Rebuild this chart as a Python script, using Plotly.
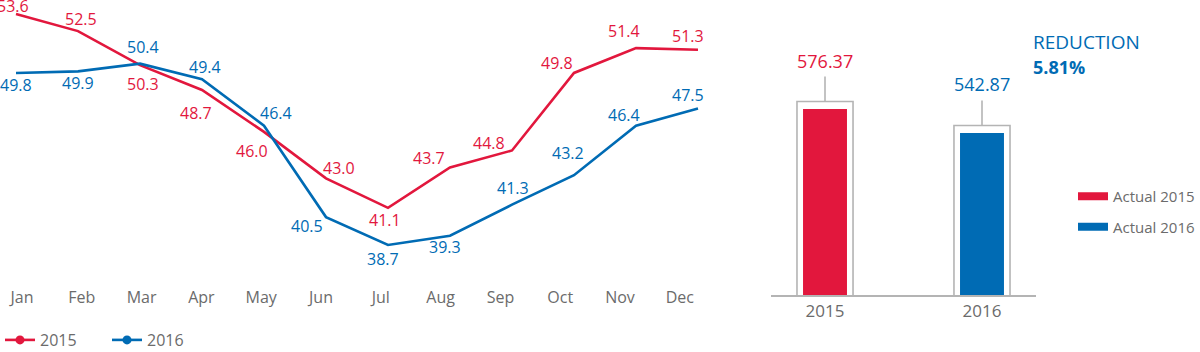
import plotly.graph_objects as go

# ---------------- data ----------------
months = ['Jan', 'Feb', 'Mar', 'Apr', 'May', 'Jun', 'Jul', 'Aug', 'Sep', 'Oct', 'Nov', 'Dec']
consumption_2015 = [53.6, 52.5, 50.3, 48.7, 46.0, 43.0, 41.1, 43.7, 44.8, 49.8, 51.4, 51.3]
consumption_2016 = [49.8, 49.9, 50.4, 49.4, 46.4, 40.5, 38.7, 39.3, 41.3, 43.2, 46.4, 47.5]
line_names = ['2015', '2016']

years = ['2015', '2016']
annual_totals = [576.37, 542.87]
bar_names = ['Actual 2015', 'Actual 2016']

# ---------------- style ----------------
W, H = 1200, 352
RED = '#E2173D'
BLUE = '#006BB4'
GREY_TEXT = '#6B6B6B'
GREY_LINE = '#B4B4B4'
FONT = 'Open Sans'

# label offsets from their point, in pixels (dx right, dy down)
offs_2015 = [(-3, -8), (3, -12), (3, 19), (-6, 23), (-12, 19), (13, -10),
             (-3, 12), (-21, -10), (-23, -7), (-17, -10), (-12, -17), (-10, -14)]
offs_2016 = [(0, 12), (0, 12), (3, -17), (3, -12), (12, -13), (-19, 9),
             (-5, 14), (-5, 11), (1, -17), (-6, -22), (-12, -11), (-10, -14)]


def px_x(p):
    return p / W


def px_y(p):
    return 1 - p / H


idx = list(range(len(months)))

# line panel geometry (pixels)
LINE_RIGHT = 715
LINE_BOTTOM = 280
pt_x0, pt_step = 16, 62.0        # point spacing
lb_x0, lb_step = 22, 59.8        # month label spacing
line_yrange = [36.442, 54.506]

# bar panel geometry
BAR_LEFT, BAR_RIGHT, BAR_BASE = 771, 1036, 295
bar_xrange = [-0.344, 1.344]
bar_yrange = [316.6, 728.6]
units_per_px = (bar_yrange[1] - bar_yrange[0]) / BAR_BASE
pad_units = 7.5 * units_per_px
stem_units = 25 * units_per_px

fig = go.Figure()
annotations = []

# line traces + value labels
for vals, col, offs in [(consumption_2015, RED, offs_2015), (consumption_2016, BLUE, offs_2016)]:
    fig.add_trace(go.Scatter(
        x=idx, y=vals, mode='lines', line=dict(color=col, width=2.6),
        showlegend=False, hoverinfo='skip', xaxis='x', yaxis='y'))
    for i, v in enumerate(vals):
        dx, dy = offs[i]
        annotations.append(dict(
            x=i, y=v, xref='x', yref='y', text=f'{v:.1f}', showarrow=False,
            xanchor='center', yanchor='middle', xshift=dx, yshift=-dy,
            font=dict(family=FONT, size=16, color=col)))

# empty trace to carry the month-label axis
fig.add_trace(go.Scatter(x=[], y=[], xaxis='x3', yaxis='y', showlegend=False, hoverinfo='skip'))

# line legend entries
for name, col in zip(line_names, [RED, BLUE]):
    fig.add_trace(go.Scatter(
        x=[None], y=[None], mode='lines+markers', name=name,
        line=dict(color=col, width=2.6), marker=dict(color=col, size=9),
        legend='legend', xaxis='x', yaxis='y'))

# bar outlines (white boxes with grey border, stem as error bar)
fig.add_trace(go.Bar(
    x=years, y=[v + pad_units for v in annual_totals], width=0.357,
    marker=dict(color='white', line=dict(color=GREY_LINE, width=1.6)),
    error_y=dict(type='data', symmetric=False, array=[stem_units] * len(years),
                 arrayminus=[0] * len(years), width=0, thickness=1.6, color=GREY_LINE),
    showlegend=False, hoverinfo='skip', xaxis='x2', yaxis='y2'))

# coloured bars
fig.add_trace(go.Bar(
    x=years, y=annual_totals, width=0.28,
    marker=dict(color=[RED, BLUE], line=dict(width=0)),
    showlegend=False, hoverinfo='skip', xaxis='x2', yaxis='y2'))

# bar legend entries
for name, col in zip(bar_names, [RED, BLUE]):
    fig.add_trace(go.Scatter(
        x=[None], y=[None], mode='lines', name=name, legendgroup=name,
        line=dict(color=col, width=8), legend='legend2', xaxis='x2', yaxis='y2'))

for i, (v, col) in enumerate(zip(annual_totals, [RED, BLUE])):
    annotations.append(dict(
        x=i, y=v + pad_units + stem_units, xref='x2', yref='y2', text=f'{v:.2f}',
        showarrow=False, xanchor='center', yanchor='bottom', yshift=2,
        font=dict(family=FONT, size=18, color=col)))

reduction = (annual_totals[0] - annual_totals[1]) / annual_totals[0] * 100
annotations.append(dict(x=px_x(1031), y=px_y(42), xref='paper', yref='paper', text='REDUCTION',
                        showarrow=False, xanchor='left', yanchor='middle',
                        font=dict(family=FONT, size=19, color=BLUE)))
annotations.append(dict(x=px_x(1031), y=px_y(67), xref='paper', yref='paper',
                        text=f'<b>{reduction:.2f}%</b>',
                        showarrow=False, xanchor='left', yanchor='middle',
                        font=dict(family=FONT, size=18, color=BLUE)))

hidden = dict(visible=False, showgrid=False, zeroline=False)

fig.update_layout(
    width=W, height=H, margin=dict(l=0, r=0, t=0, b=0, autoexpand=False),
    paper_bgcolor='white', plot_bgcolor='rgba(0,0,0,0)',
    font=dict(family=FONT, color=GREY_TEXT),
    barmode='overlay', hovermode=False,
    xaxis=dict(domain=[0, px_x(LINE_RIGHT)], anchor='y',
               range=[-pt_x0 / pt_step, (LINE_RIGHT - pt_x0) / pt_step], **hidden),
    yaxis=dict(domain=[px_y(LINE_BOTTOM), 1], anchor='x', range=line_yrange, **hidden),
    xaxis3=dict(overlaying='x', anchor='y', side='bottom',
                range=[-lb_x0 / lb_step, (LINE_RIGHT - lb_x0) / lb_step],
                tickmode='array', tickvals=idx, ticktext=months, ticks='',
                ticklabelstandoff=6, automargin=False,
                showgrid=False, zeroline=False, showline=False,
                tickfont=dict(family=FONT, size=16, color=GREY_TEXT)),
    xaxis2=dict(domain=[px_x(BAR_LEFT), px_x(BAR_RIGHT)], anchor='y2', type='category',
                range=bar_xrange, showline=True, linecolor=GREY_LINE, linewidth=1.6,
                ticks='', showgrid=False, zeroline=False, automargin=False,
                tickfont=dict(family=FONT, size=17, color=GREY_TEXT)),
    yaxis2=dict(domain=[px_y(BAR_BASE), 1], anchor='x2', range=bar_yrange, **hidden),
    legend=dict(orientation='h', x=0, y=px_y(340), xanchor='left', yanchor='middle',
                font=dict(family=FONT, size=16, color=GREY_TEXT),
                entrywidth=62, entrywidthmode='pixels', bgcolor='rgba(0,0,0,0)'),
    legend2=dict(orientation='v', x=px_x(1073), y=px_y(180), xanchor='left', yanchor='top',
                 font=dict(family=FONT, size=15, color=GREY_TEXT), tracegroupgap=8,
                 bgcolor='rgba(0,0,0,0)'),
    annotations=annotations,
)

fig.write_html('out.html')
